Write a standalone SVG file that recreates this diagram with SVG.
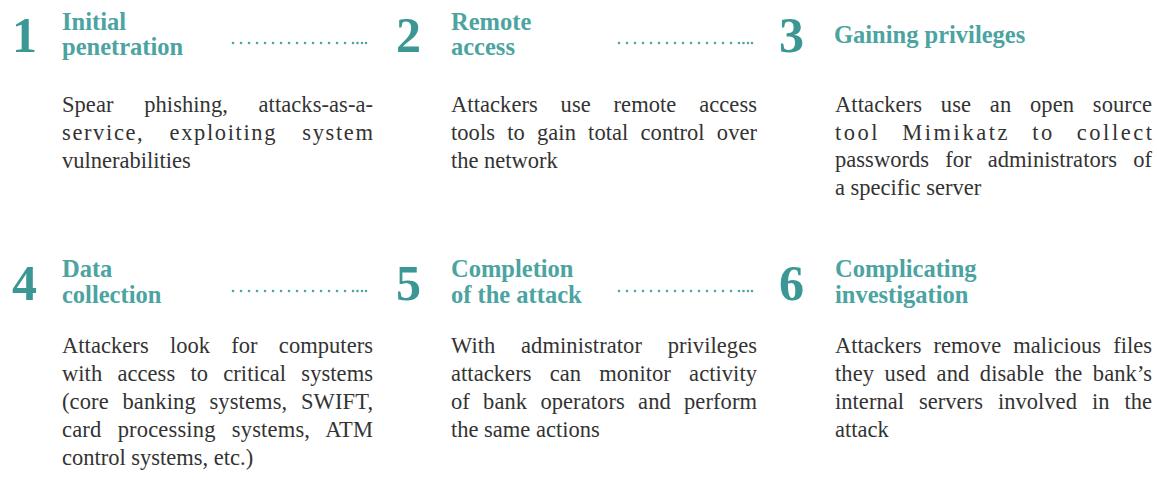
<svg xmlns="http://www.w3.org/2000/svg" width="1157" height="483" viewBox="0 0 1157 483">
<style>
.num{font-family:'Liberation Serif','Times New Roman','DejaVu Serif',serif;font-weight:bold;font-size:50px;fill:#3a9793}
.hd{font-family:'Liberation Serif','Times New Roman','DejaVu Serif',serif;font-weight:bold;font-size:24.5px;fill:#4ba4a1}
.bd{font-family:'Liberation Serif','Times New Roman','DejaVu Serif',serif;font-size:22.5px;fill:#333}
.dots{stroke:#4ba4a1;stroke-width:2.6;stroke-linecap:round;fill:none}
</style>
<rect width="1157" height="483" fill="#fff"/>
<g id="connectors">
<path class="dots" d="M233 43H353.5" stroke-dasharray="0 8"/>
<path class="dots" d="M357.5 43H358M362 43H362.5M366 43H366.5" stroke-dasharray="0 8"/>
<path class="dots" d="M619 43H739.5" stroke-dasharray="0 8"/>
<path class="dots" d="M743.5 43H744M748 43H748.5M752 43H752.5" stroke-dasharray="0 8"/>
<path class="dots" d="M233 291H353.5" stroke-dasharray="0 8"/>
<path class="dots" d="M357.5 291H358M362 291H362.5M366 291H366.5" stroke-dasharray="0 8"/>
<path class="dots" d="M619 291H739.5" stroke-dasharray="0 8"/>
<path class="dots" d="M743.5 291H744M748 291H748.5M752 291H752.5" stroke-dasharray="0 8"/>
</g>
<g id="step1">
<text class="num" x="12" y="52">1</text>
<text class="hd" x="62" y="30">Initial</text>
<text class="hd" x="62" y="55">penetration</text>
<text class="bd" x="62" y="112" textLength="311" lengthAdjust="spacing" word-spacing="25">Spear phishing, attacks-as-a-</text>
<text class="bd" x="62" y="140" textLength="311" lengthAdjust="spacing" word-spacing="18">service, exploiting system</text>
<text class="bd" x="62" y="168">vulnerabilities</text>
</g>
<g id="step2">
<text class="num" x="396" y="52">2</text>
<text class="hd" x="451" y="30">Remote</text>
<text class="hd" x="451" y="55">access</text>
<text class="bd" x="451" y="112" textLength="306" lengthAdjust="spacing" word-spacing="17">Attackers use remote access</text>
<text class="bd" x="451" y="140" textLength="306" lengthAdjust="spacing" word-spacing="6.5">tools to gain total control over</text>
<text class="bd" x="451" y="168">the network</text>
</g>
<g id="step3">
<text class="num" x="779" y="52">3</text>
<text class="hd" x="834" y="43">Gaining privileges</text>
<text class="bd" x="835" y="112" textLength="317" lengthAdjust="spacing" word-spacing="13">Attackers use an open source</text>
<text class="bd" x="835" y="140" textLength="317" lengthAdjust="spacing" word-spacing="14">tool Mimikatz to collect</text>
<text class="bd" x="835" y="167" textLength="317" lengthAdjust="spacing" word-spacing="10.5">passwords for administrators of</text>
<text class="bd" x="835" y="195">a specific server</text>
</g>
<g id="step4">
<text class="num" x="12" y="300">4</text>
<text class="hd" x="62" y="277">Data</text>
<text class="hd" x="62" y="303">collection</text>
<text class="bd" x="62" y="353" textLength="311" lengthAdjust="spacing" word-spacing="15.5">Attackers look for computers</text>
<text class="bd" x="62" y="381" textLength="311" lengthAdjust="spacing" word-spacing="9.5">with access to critical systems</text>
<text class="bd" x="62" y="409" textLength="311" lengthAdjust="spacing" word-spacing="8">(core banking systems, SWIFT,</text>
<text class="bd" x="62" y="437" textLength="311" lengthAdjust="spacing" word-spacing="10.5">card processing systems, ATM</text>
<text class="bd" x="62" y="465">control systems, etc.)</text>
</g>
<g id="step5">
<text class="num" x="396" y="300">5</text>
<text class="hd" x="451" y="277">Completion</text>
<text class="hd" x="451" y="303">of the attack</text>
<text class="bd" x="451" y="353" textLength="306" lengthAdjust="spacing" word-spacing="20">With administrator privileges</text>
<text class="bd" x="451" y="381" textLength="306" lengthAdjust="spacing" word-spacing="12.5">attackers can monitor activity</text>
<text class="bd" x="451" y="409" textLength="306" lengthAdjust="spacing" word-spacing="7.5">of bank operators and perform</text>
<text class="bd" x="451" y="437">the same actions</text>
</g>
<g id="step6">
<text class="num" x="779" y="300">6</text>
<text class="hd" x="835" y="277">Complicating</text>
<text class="hd" x="835" y="303">investigation</text>
<text class="bd" x="835" y="353" textLength="317" lengthAdjust="spacing" word-spacing="6.5">Attackers remove malicious files</text>
<text class="bd" x="835" y="381" textLength="317" lengthAdjust="spacing" word-spacing="4.8">they used and disable the bank’s</text>
<text class="bd" x="835" y="409" textLength="317" lengthAdjust="spacing" word-spacing="9.3">internal servers involved in the</text>
<text class="bd" x="835" y="437">attack</text>
</g>
</svg>
